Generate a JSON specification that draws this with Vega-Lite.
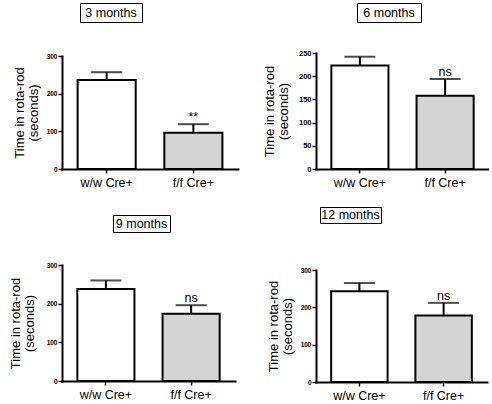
{
  "$schema": "https://vega.github.io/schema/vega-lite/v6.json",
  "padding": {"left": 9, "top": 2, "right": 0, "bottom": 0},
  "config": {
    "view": {"stroke": null},
    "font": "Liberation Sans",
    "axis": {"domainColor": "black", "domainWidth": 2, "domainCap": "square", "tickColor": "black", "tickWidth": 1.5, "tickSize": 4, "grid": false, "labelColor": "black", "titleColor": "black", "labelOverlap": false},
    "axisY": {"labelFontSize": 6.5, "labelFontWeight": "bold", "labelPadding": 1, "titleFontSize": 13, "titleFontWeight": "normal", "titlePadding": 6, "titleLineHeight": 14},
    "axisX": {"labelFontSize": 12.5, "labelAngle": 0, "labelPadding": 3}
  },
  "datasets": {
    "bars": [
      {"panel": "3 months", "group": "w/w Cre+", "mean": 236, "err": 257, "sig": ""},
      {"panel": "3 months", "group": "f/f Cre+", "mean": 96, "err": 119, "sig": "**"},
      {"panel": "6 months", "group": "w/w Cre+", "mean": 223, "err": 242, "sig": ""},
      {"panel": "6 months", "group": "f/f Cre+", "mean": 158, "err": 194, "sig": "ns"},
      {"panel": "9 months", "group": "w/w Cre+", "mean": 238, "err": 260, "sig": ""},
      {"panel": "9 months", "group": "f/f Cre+", "mean": 174, "err": 196, "sig": "ns"},
      {"panel": "12 months", "group": "w/w Cre+", "mean": 243, "err": 265, "sig": ""},
      {"panel": "12 months", "group": "f/f Cre+", "mean": 178, "err": 212, "sig": "ns"}
    ],
    "titles": [
      {"panel": "3 months"}, {"panel": "6 months"}, {"panel": "9 months"}, {"panel": "12 months"}
    ]
  },
  "hconcat": [
    {
      "spacing": 25,
      "vconcat": [
        {
          "spacing": 30,
          "vconcat": [
            {"spacing": 0, "hconcat": [
              {"width": 17, "height": 19, "data": {"values": []}, "mark": "text", "encoding": {}},
              {"width": 62, "height": 19, "view": {"stroke": "black", "strokeWidth": 1}, "data": {"name": "titles"}, "transform": [{"filter": "datum.panel === '3 months'"}], "mark": {"type": "text", "fontSize": 12.5, "color": "black"}, "encoding": {"text": {"field": "panel"}}}
            ]},
            {
              "width": 176, "height": 113,
              "data": {"name": "bars"},
              "transform": [{"filter": "datum.panel === '3 months'"}],
              "encoding": {"x": {"field": "group", "type": "nominal", "sort": ["w/w Cre+", "f/f Cre+"], "title": null, "scale": {"paddingInner": 0.33, "paddingOuter": 0.18}}},
              "layer": [
                {"mark": {"type": "rule", "strokeWidth": 2, "color": "black"}, "encoding": {"y": {"field": "mean", "type": "quantitative", "title": ["Time in rota-rod", "(seconds)"], "scale": {"domain": [0, 300], "nice": false}, "axis": {"values": [0, 100, 200, 300]}}, "y2": {"field": "err"}}},
                {"mark": {"type": "tick", "size": 31, "thickness": 2, "color": "black"}, "encoding": {"y": {"field": "err", "type": "quantitative", "title": ["Time in rota-rod", "(seconds)"], "axis": {"values": [0, 100, 200, 300]}}}},
                {"mark": {"type": "bar", "stroke": "black", "strokeWidth": 2}, "encoding": {"y": {"field": "mean", "type": "quantitative", "title": ["Time in rota-rod", "(seconds)"], "axis": {"values": [0, 100, 200, 300]}}, "fill": {"field": "group", "type": "nominal", "scale": {"domain": ["w/w Cre+", "f/f Cre+"], "range": ["white", "#d4d4d4"]}, "legend": null}}},
                {"mark": {"type": "text", "dy": -7, "fontSize": 12.5, "color": "black"}, "encoding": {"y": {"field": "err", "type": "quantitative", "title": ["Time in rota-rod", "(seconds)"], "axis": {"values": [0, 100, 200, 300]}}, "text": {"field": "sig"}}}
              ]
            }
          ]
        },
        {
          "spacing": 29,
          "vconcat": [
            {"spacing": 0, "hconcat": [
              {"width": 50, "height": 17, "data": {"values": []}, "mark": "text", "encoding": {}},
              {"width": 57, "height": 17, "view": {"stroke": "black", "strokeWidth": 1}, "data": {"name": "titles"}, "transform": [{"filter": "datum.panel === '9 months'"}], "mark": {"type": "text", "fontSize": 12.5, "color": "black"}, "encoding": {"text": {"field": "panel"}}}
            ]},
            {
              "width": 173, "height": 116,
              "data": {"name": "bars"},
              "transform": [{"filter": "datum.panel === '9 months'"}],
              "encoding": {"x": {"field": "group", "type": "nominal", "sort": ["w/w Cre+", "f/f Cre+"], "title": null, "scale": {"paddingInner": 0.33, "paddingOuter": 0.18}}},
              "layer": [
                {"mark": {"type": "rule", "strokeWidth": 2, "color": "black"}, "encoding": {"y": {"field": "mean", "type": "quantitative", "title": ["Time in rota-rod", "(seconds)"], "scale": {"domain": [0, 300], "nice": false}, "axis": {"values": [0, 100, 200, 300], "titlePadding": 10}}, "y2": {"field": "err"}}},
                {"mark": {"type": "tick", "size": 31, "thickness": 2, "color": "black"}, "encoding": {"y": {"field": "err", "type": "quantitative", "title": ["Time in rota-rod", "(seconds)"], "axis": {"values": [0, 100, 200, 300], "titlePadding": 10}}}},
                {"mark": {"type": "bar", "stroke": "black", "strokeWidth": 2}, "encoding": {"y": {"field": "mean", "type": "quantitative", "title": ["Time in rota-rod", "(seconds)"], "axis": {"values": [0, 100, 200, 300], "titlePadding": 10}}, "fill": {"field": "group", "type": "nominal", "scale": {"domain": ["w/w Cre+", "f/f Cre+"], "range": ["white", "#d4d4d4"]}, "legend": null}}},
                {"mark": {"type": "text", "dy": -7, "fontSize": 12.5, "color": "black"}, "encoding": {"y": {"field": "err", "type": "quantitative", "title": ["Time in rota-rod", "(seconds)"], "axis": {"values": [0, 100, 200, 300], "titlePadding": 10}}, "text": {"field": "sig"}}}
              ]
            }
          ]
        }
      ]
    },
    {
      "spacing": 17,
      "vconcat": [
        {
          "spacing": 20,
          "vconcat": [
            {"spacing": 0, "hconcat": [
              {"width": 40, "height": 19, "data": {"values": []}, "mark": "text", "encoding": {}},
              {"width": 64, "height": 19, "view": {"stroke": "black", "strokeWidth": 1}, "data": {"name": "titles"}, "transform": [{"filter": "datum.panel === '6 months'"}], "mark": {"type": "text", "fontSize": 12.5, "color": "black"}, "encoding": {"text": {"field": "panel"}}}
            ]},
            {
              "width": 173, "height": 116,
              "data": {"name": "bars"},
              "transform": [{"filter": "datum.panel === '6 months'"}],
              "encoding": {"x": {"field": "group", "type": "nominal", "sort": ["w/w Cre+", "f/f Cre+"], "title": null, "scale": {"paddingInner": 0.33, "paddingOuter": 0.18}}},
              "layer": [
                {"mark": {"type": "rule", "strokeWidth": 2, "color": "black"}, "encoding": {"y": {"field": "mean", "type": "quantitative", "title": ["Time in rota-rod", "(seconds)"], "scale": {"domain": [0, 250], "nice": false}, "axis": {"values": [0, 50, 100, 150, 200, 250], "labelFontSize": 7.5, "titlePadding": 8}}, "y2": {"field": "err"}}},
                {"mark": {"type": "tick", "size": 31, "thickness": 2, "color": "black"}, "encoding": {"y": {"field": "err", "type": "quantitative", "title": ["Time in rota-rod", "(seconds)"], "axis": {"values": [0, 50, 100, 150, 200, 250], "labelFontSize": 7.5, "titlePadding": 8}}}},
                {"mark": {"type": "bar", "stroke": "black", "strokeWidth": 2}, "encoding": {"y": {"field": "mean", "type": "quantitative", "title": ["Time in rota-rod", "(seconds)"], "axis": {"values": [0, 50, 100, 150, 200, 250], "labelFontSize": 7.5, "titlePadding": 8}}, "fill": {"field": "group", "type": "nominal", "scale": {"domain": ["w/w Cre+", "f/f Cre+"], "range": ["white", "#d4d4d4"]}, "legend": null}}},
                {"mark": {"type": "text", "dy": -7, "fontSize": 12.5, "color": "black"}, "encoding": {"y": {"field": "err", "type": "quantitative", "title": ["Time in rota-rod", "(seconds)"], "axis": {"values": [0, 50, 100, 150, 200, 250], "labelFontSize": 7.5, "titlePadding": 8}}, "text": {"field": "sig"}}}
              ]
            }
          ]
        },
        {
          "spacing": 43,
          "vconcat": [
            {"spacing": 0, "hconcat": [
              {"width": 3, "height": 16, "data": {"values": []}, "mark": "text", "encoding": {}},
              {"width": 61, "height": 16, "view": {"stroke": "black", "strokeWidth": 1}, "data": {"name": "titles"}, "transform": [{"filter": "datum.panel === '12 months'"}], "mark": {"type": "text", "fontSize": 12.5, "color": "black"}, "encoding": {"text": {"field": "panel"}}}
            ]},
            {
              "width": 171, "height": 112,
              "data": {"name": "bars"},
              "transform": [{"filter": "datum.panel === '12 months'"}],
              "encoding": {"x": {"field": "group", "type": "nominal", "sort": ["w/w Cre+", "f/f Cre+"], "title": null, "scale": {"paddingInner": 0.33, "paddingOuter": 0.18}}},
              "layer": [
                {"mark": {"type": "rule", "strokeWidth": 2, "color": "black"}, "encoding": {"y": {"field": "mean", "type": "quantitative", "title": ["Time in rota-rod", "(seconds)"], "scale": {"domain": [0, 300], "nice": false}, "axis": {"values": [0, 100, 200, 300]}}, "y2": {"field": "err"}}},
                {"mark": {"type": "tick", "size": 31, "thickness": 2, "color": "black"}, "encoding": {"y": {"field": "err", "type": "quantitative", "title": ["Time in rota-rod", "(seconds)"], "axis": {"values": [0, 100, 200, 300]}}}},
                {"mark": {"type": "bar", "stroke": "black", "strokeWidth": 2}, "encoding": {"y": {"field": "mean", "type": "quantitative", "title": ["Time in rota-rod", "(seconds)"], "axis": {"values": [0, 100, 200, 300]}}, "fill": {"field": "group", "type": "nominal", "scale": {"domain": ["w/w Cre+", "f/f Cre+"], "range": ["white", "#d4d4d4"]}, "legend": null}}},
                {"mark": {"type": "text", "dy": -7, "fontSize": 12.5, "color": "black"}, "encoding": {"y": {"field": "err", "type": "quantitative", "title": ["Time in rota-rod", "(seconds)"], "axis": {"values": [0, 100, 200, 300]}}, "text": {"field": "sig"}}}
              ]
            }
          ]
        }
      ]
    }
  ],
  "spacing": 25
}
